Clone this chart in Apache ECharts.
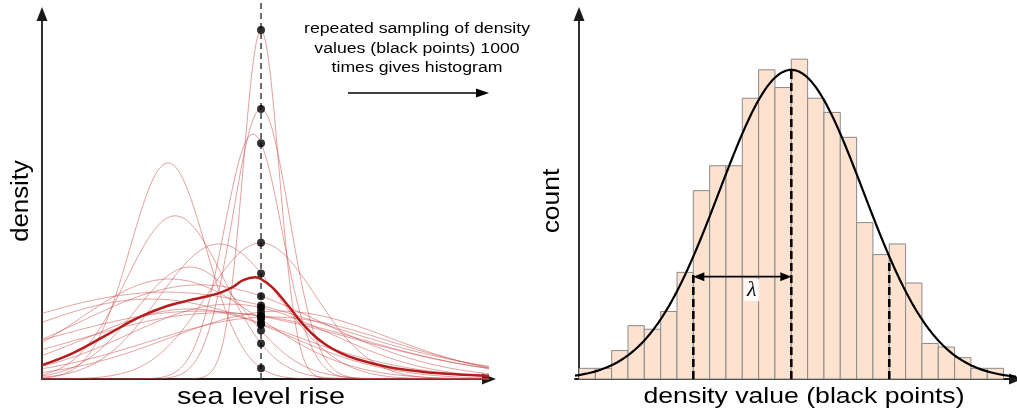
<!DOCTYPE html>
<html>
<head>
<meta charset="utf-8">
<script src="https://cdn.jsdelivr.net/npm/echarts@6/dist/echarts.min.js"></script>
<style>
  html, body { margin: 0; padding: 0; background: #ffffff; }
  #chart { width: 1017px; height: 414px; }
</style>
</head>
<body>
<div id="chart"></div>
<script>
// ---- Left panel: individual density curves for sea level rise ----
// each curve: centre, spread and peak density
const curveCentres = [4.90, 4.90, 4.72, 2.82, 2.98, 3.96, 4.90, 3.31, 2.77, 3.54, 4.21, 5.32, 2.42, 5.10, 3.31, 3.54, 3.98, 2.86];
const curveSpreads = [0.40, 0.63, 0.65, 0.85, 1.10, 1.34, 1.23, 1.23, 3.69, 2.69, 2.24, 2.46, 2.91, 2.69, 2.24, 3.36, 3.13, 2.01];
const curvePeaks   = [0.956, 0.740, 0.671, 0.592, 0.447, 0.370, 0.373, 0.307, 0.238, 0.258, 0.205, 0.186, 0.219, 0.170, 0.192, 0.186, 0.181, 0.274];
// sea level rise at which the densities are sampled
const samplePoint = 4.9;
// mean density curve
const meanCurveX = [0, 0.69, 1.45, 2.19, 2.80, 3.31, 3.53, 3.98, 4.27, 4.50, 4.77, 4.90, 5.17, 5.48, 5.77, 6.06, 6.35, 6.70, 7.00, 7.74, 8.50, 9.24, 10];
const meanCurveY = [0.038, 0.071, 0.121, 0.170, 0.200, 0.216, 0.222, 0.236, 0.252, 0.271, 0.279, 0.274, 0.249, 0.205, 0.160, 0.122, 0.094, 0.070, 0.056, 0.033, 0.020, 0.013, 0.009];

// ---- Right panel: histogram of sampled density values ----
const binCounts = [3, 3, 8, 15, 14, 19, 30, 53, 60, 60, 79, 87, 82, 90, 79, 75, 68, 44, 35, 38, 27, 10, 9, 6, 3, 3];
const fitMean = 13, fitSd = 4.41, fitPeak = 87;
const markerX = [7, 13, 19];
const markerTop = [30, 87, 33.5];
const lambdaFrom = 7, lambdaTo = 13, lambdaLevel = 28.8;

const FONT = '"Liberation Sans", Arial, Helvetica, sans-serif';

function gauss(x, mu, sd, peak) {
  return peak * Math.exp(-((x - mu) * (x - mu)) / (2 * sd * sd));
}

// thin density curves
const thinSeries = curveCentres.map((mu, k) => {
  const pts = [];
  for (let x = 0; x <= 10.0001; x += 0.05) {
    pts.push([x, gauss(x, mu, curveSpreads[k], curvePeaks[k])]);
  }
  return {
    type: 'line', xAxisIndex: 0, yAxisIndex: 0, data: pts,
    showSymbol: false, silent: true, z: 2,
    lineStyle: { color: 'rgba(200, 70, 70, 0.5)', width: 1 }
  };
});

// density of every curve at the sampling line
const samplePoints = curveCentres.map((mu, k) => [samplePoint, gauss(samplePoint, mu, curveSpreads[k], curvePeaks[k])]);

// fitted curve over the histogram
const fitPts = [];
for (let x = -0.245; x <= 26.76; x += 0.1) fitPts.push([x, gauss(x, fitMean, fitSd, fitPeak)]);

const axisCommon = {
  type: 'value',
  axisTick: { show: false },
  axisLabel: { show: false },
  splitLine: { show: false },
  axisLine: {
    show: true,
    symbol: ['none', 'triangle'],
    symbolSize: [11, 14],
    lineStyle: { color: '#1a1a1a', width: 1.8 }
  }
};

const chart = echarts.init(document.getElementById('chart'), null, { renderer: 'canvas' });

chart.setOption({
  animation: false,
  backgroundColor: '#ffffff',
  grid: [
    { left: 42, top: 14, width: 447, height: 365 },
    { left: 575, top: 14, width: 441, height: 365 }
  ],
  xAxis: [
    Object.assign({}, axisCommon, { gridIndex: 0, min: 0, max: 10 }),
    Object.assign({}, axisCommon, { gridIndex: 1, min: -0.245, max: 26.76 })
  ],
  yAxis: [
    Object.assign({}, axisCommon, { gridIndex: 0, min: 0, max: 1 }),
    Object.assign({}, axisCommon, { gridIndex: 1, min: 0, max: 102.7 })
  ],
  series: [
    ...thinSeries,
    {
      type: 'line', xAxisIndex: 0, yAxisIndex: 0,
      data: meanCurveX.map((x, i) => [x, meanCurveY[i]]),
      smooth: 0.4, showSymbol: false, silent: true, z: 3,
      lineStyle: { color: '#b51c1c', width: 2.5 }
    },
    {
      // sampling line
      type: 'line', xAxisIndex: 0, yAxisIndex: 0,
      data: [[samplePoint, 0], [samplePoint, 1.03]],
      showSymbol: false, silent: true, clip: false, z: 4,
      lineStyle: { color: '#4a4a4a', width: 1.6, type: [6, 4] }
    },
    {
      type: 'scatter', xAxisIndex: 0, yAxisIndex: 0,
      data: samplePoints, symbol: 'circle', symbolSize: 8, z: 5,
      itemStyle: { color: '#000000' }, silent: true
    },
    {
      // histogram bars
      type: 'custom', xAxisIndex: 1, yAxisIndex: 1, z: 2,
      data: binCounts.map((c, i) => [i, c]),
      encode: { x: 0, y: 1 },
      renderItem: function (params, api) {
        const i = api.value(0), c = api.value(1);
        const p0 = api.coord([i, c]);
        const p1 = api.coord([i + 1, 0]);
        return {
          type: 'rect',
          shape: { x: p0[0], y: p0[1], width: p1[0] - p0[0], height: p1[1] - p0[1] },
          style: { fill: '#fde2cf', stroke: '#8a8a8a', lineWidth: 1 }
        };
      },
      silent: true
    },
    {
      type: 'line', xAxisIndex: 1, yAxisIndex: 1, data: fitPts,
      showSymbol: false, silent: true, z: 4, clip: false,
      lineStyle: { color: '#000000', width: 2.2 }
    },
    {
      // dashed markers at the mean and either side
      type: 'custom', xAxisIndex: 1, yAxisIndex: 1, z: 5,
      data: markerX.map((x, i) => [x, markerTop[i]]),
      encode: { x: 0, y: 1 },
      renderItem: function (params, api) {
        const a = api.coord([api.value(0), 0]);
        const b = api.coord([api.value(0), api.value(1)]);
        return {
          type: 'line',
          shape: { x1: a[0], y1: a[1], x2: b[0], y2: b[1] },
          style: { stroke: '#000000', lineWidth: 2.6, lineDash: [8, 4] }
        };
      },
      silent: true
    },
    {
      // lambda double arrow
      type: 'custom', xAxisIndex: 1, yAxisIndex: 1, z: 6,
      data: [[lambdaFrom, lambdaTo, lambdaLevel]],
      encode: { x: [0, 1], y: 2 },
      renderItem: function (params, api) {
        const a = api.coord([api.value(0), api.value(2)]);
        const b = api.coord([api.value(1), api.value(2)]);
        const y = a[1], hl = 11, hw = 4.5;
        const mid = api.coord([10.58, 25]);
        return {
          type: 'group',
          children: [
            { type: 'line', shape: { x1: a[0] + hl - 1, y1: y, x2: b[0] - hl + 1, y2: y },
              style: { stroke: '#000', lineWidth: 1.6 } },
            { type: 'polygon', shape: { points: [[a[0], y], [a[0] + hl, y - hw], [a[0] + hl, y + hw]] },
              style: { fill: '#000' } },
            { type: 'polygon', shape: { points: [[b[0], y], [b[0] - hl, y - hw], [b[0] - hl, y + hw]] },
              style: { fill: '#000' } },
            { type: 'text', x: mid[0], y: mid[1],
              style: { text: 'λ', font: 'italic 22px "Liberation Serif", "DejaVu Serif", serif', fill: '#111',
                       align: 'center', verticalAlign: 'middle',
                       backgroundColor: 'rgba(255,255,255,0.85)', padding: [0, 3, 0, 3] } }
          ]
        };
      },
      silent: true
    }
  ],
  graphic: [
    { type: 'text', x: 22, y: 201, rotation: Math.PI / 2, scaleX: 1.12, z: 10,
      style: { text: 'density', font: '23px ' + FONT, fill: '#000', align: 'center', verticalAlign: 'middle' } },
    { type: 'text', x: 261, y: 397, scaleX: 1.2, z: 10,
      style: { text: 'sea level rise', font: '24px ' + FONT, fill: '#000', align: 'center', verticalAlign: 'middle' } },
    { type: 'text', x: 553, y: 201, rotation: Math.PI / 2, scaleX: 1.15, z: 10,
      style: { text: 'count', font: '23px ' + FONT, fill: '#000', align: 'center', verticalAlign: 'middle' } },
    { type: 'text', x: 804, y: 397, scaleX: 1.21, z: 10,
      style: { text: 'density value (black points)', font: '22px ' + FONT, fill: '#000', align: 'center', verticalAlign: 'middle' } },
    { type: 'text', x: 417, y: 48.5, scaleX: 1.14, z: 10,
      style: { text: 'repeated sampling of density\nvalues (black points) 1000\ntimes gives histogram',
               font: '15.5px ' + FONT, lineHeight: 19.7, fill: '#000', align: 'center', verticalAlign: 'middle' } },
    { type: 'line', z: 10, shape: { x1: 348, y1: 93, x2: 480, y2: 93 }, style: { stroke: '#000', lineWidth: 1.5 } },
    { type: 'polygon', z: 10, shape: { points: [[476, 88.5], [489, 93], [476, 97.5]] }, style: { fill: '#000' } }
  ]
});
</script>
</body>
</html>
